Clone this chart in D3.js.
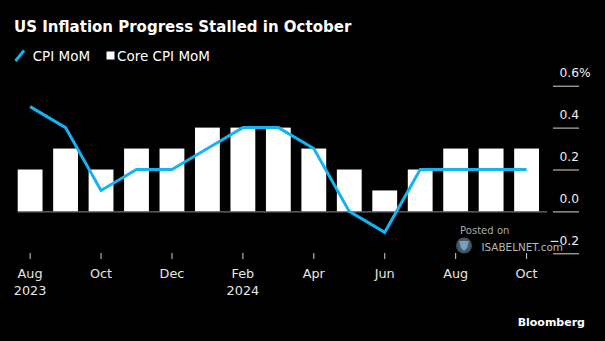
<!DOCTYPE html>
<html>
<head>
<meta charset="utf-8">
<script src="https://cdn.jsdelivr.net/npm/d3@7"></script>
<style>
  html, body { margin: 0; padding: 0; background: #000; }
  svg { display: block; font-family: "DejaVu Sans", sans-serif; }
</style>
</head>
<body>
<svg id="chart" width="605" height="341"></svg>
<script>
// Monthly CPI figures, Aug 2023 – Oct 2024 (month-over-month % change)
const months = ["Aug 2023","Sep 2023","Oct 2023","Nov 2023","Dec 2023","Jan 2024","Feb 2024",
                "Mar 2024","Apr 2024","May 2024","Jun 2024","Jul 2024","Aug 2024","Sep 2024","Oct 2024"];
const cpiMoM     = [0.5, 0.4, 0.1, 0.2, 0.2, 0.3, 0.4, 0.4, 0.3, 0.0, -0.1, 0.2, 0.2, 0.2, 0.2];
const coreCpiMoM = [0.2, 0.3, 0.2, 0.3, 0.3, 0.4, 0.4, 0.4, 0.3, 0.2, 0.1, 0.2, 0.3, 0.3, 0.3];

// Axis labels
const xTickMonths = ["Aug 2023","Oct 2023","Dec 2023","Feb 2024","Apr 2024","Jun 2024","Aug 2024","Oct 2024"];
const xTickLabels = ["Aug","Oct","Dec","Feb","Apr","Jun","Aug","Oct"];
const xTickYears  = ["2023","","","2024","","","",""];
const yTicks = [-0.2, 0.0, 0.2, 0.4, 0.6];

const titleText = "US Inflation Progress Stalled in October";
const seriesNames = ["CPI MoM", "Core CPI MoM"];

const BLUE = "#15b4f1";
const svg = d3.select("#chart");

const x = d3.scaleBand().domain(months).range([17.7, 539]).paddingInner(0.3).paddingOuter(0);
const y = d3.scaleLinear().domain([-0.2, 0.6]).range([253.3, 85.7]);

// Title
svg.append("text").attr("x", 14).attr("y", 31.5)
  .attr("fill", "#fff").attr("font-size", 15).attr("font-weight", "bold")
  .text(titleText);

// Legend
const lg = svg.append("g");
lg.append("line").attr("x1", 15.5).attr("y1", 61).attr("x2", 24).attr("y2", 50.5)
  .attr("stroke", BLUE).attr("stroke-width", 3);
lg.append("text").attr("x", 32.7).attr("y", 60.5).attr("fill", "#fff")
  .attr("font-size", 13.5).text(seriesNames[0]);
lg.append("rect").attr("x", 106.5).attr("y", 51.5).attr("width", 8).attr("height", 8).attr("fill", "#fff");
lg.append("text").attr("x", 117).attr("y", 60.5).attr("fill", "#fff")
  .attr("font-size", 13.5).text(seriesNames[1]);

// Y axis: short rules on the right with labels sitting above them
const yAxis = svg.append("g");
yAxis.selectAll("line").data(yTicks).join("line")
  .attr("x1", 553).attr("x2", 579)
  .attr("y1", d => y(d) + 0.5).attr("y2", d => y(d) + 0.5)
  .attr("stroke", "#d8d8d8").attr("stroke-width", 1);
yAxis.selectAll("text.num").data(yTicks).join("text").attr("class", "num")
  .attr("x", 579).attr("y", d => y(d) - 8.5)
  .attr("text-anchor", "end").attr("fill", "#f0f0f0").attr("font-size", 12.3)
  .text(d => d3.format(".1f")(d));
svg.append("text").attr("x", 579).attr("y", y(0.6) - 8.5)
  .attr("fill", "#f0f0f0").attr("font-size", 12.3).text("%");

// Core CPI bars
svg.append("g").selectAll("rect").data(months).join("rect")
  .attr("x", d => x(d))
  .attr("width", x.bandwidth())
  .attr("y", (d, i) => Math.min(y(coreCpiMoM[i]), y(0)))
  .attr("height", (d, i) => Math.abs(y(coreCpiMoM[i]) - y(0)))
  .attr("fill", "#fff");

// Zero baseline
svg.append("line").attr("x1", 17.7).attr("x2", 547)
  .attr("y1", y(0) + 0.5).attr("y2", y(0) + 0.5)
  .attr("stroke", "#8a8a8a").attr("stroke-width", 1);

// Headline CPI line
const line = d3.line()
  .x((d, i) => x(months[i]) + x.bandwidth() / 2)
  .y(d => y(d));
svg.append("path").datum(cpiMoM)
  .attr("d", line).attr("fill", "none")
  .attr("stroke", BLUE).attr("stroke-width", 3).attr("stroke-linejoin", "miter");

// X axis
const xAxis = d3.axisBottom(x).tickValues(xTickMonths).tickSize(6).tickPadding(0)
  .tickFormat(() => "");
const gx = svg.append("g").attr("transform", "translate(0,253)").call(xAxis);
gx.select(".domain").remove();
gx.selectAll(".tick line").attr("stroke", "#d0d0d0");
gx.selectAll(".tick text").remove();
const lab = svg.append("g").attr("fill", "#e6e6e6").attr("font-size", 12.8).attr("text-anchor", "middle");
xTickMonths.forEach((m, i) => {
  const cx = x(m) + x.bandwidth() / 2;
  lab.append("text").attr("x", cx).attr("y", 277.5).text(xTickLabels[i]);
  if (xTickYears[i]) lab.append("text").attr("x", cx).attr("y", 295).text(xTickYears[i]);
});

// Watermark
const wm = svg.append("g");
const grad = svg.append("defs").append("radialGradient").attr("id", "wmGrad");
grad.append("stop").attr("offset", "0%").attr("stop-color", "#3a8fc0");
grad.append("stop").attr("offset", "100%").attr("stop-color", "#4b5a66");
wm.append("circle").attr("cx", 464).attr("cy", 245.5).attr("r", 8).attr("fill", "url(#wmGrad)").attr("opacity", 0.85);
wm.append("path").attr("d", "M459,241 L469,241 L467,248 L464,251 L461,248 Z")
  .attr("fill", "#9fb3c2").attr("opacity", 0.7);
wm.append("text").attr("x", 460).attr("y", 234.3).attr("fill", "#a8a8a8").attr("font-size", 10.1).text("Posted on");
wm.append("text").attr("x", 481.5).attr("y", 251).attr("fill", "#b8b8b8").attr("font-size", 10.4).text("ISABELNET.com");

// Source
svg.append("text").attr("x", 585).attr("y", 325.7).attr("text-anchor", "end")
  .attr("fill", "#fff").attr("font-size", 11).attr("font-weight", "bold").text("Bloomberg");
</script>
</body>
</html>
